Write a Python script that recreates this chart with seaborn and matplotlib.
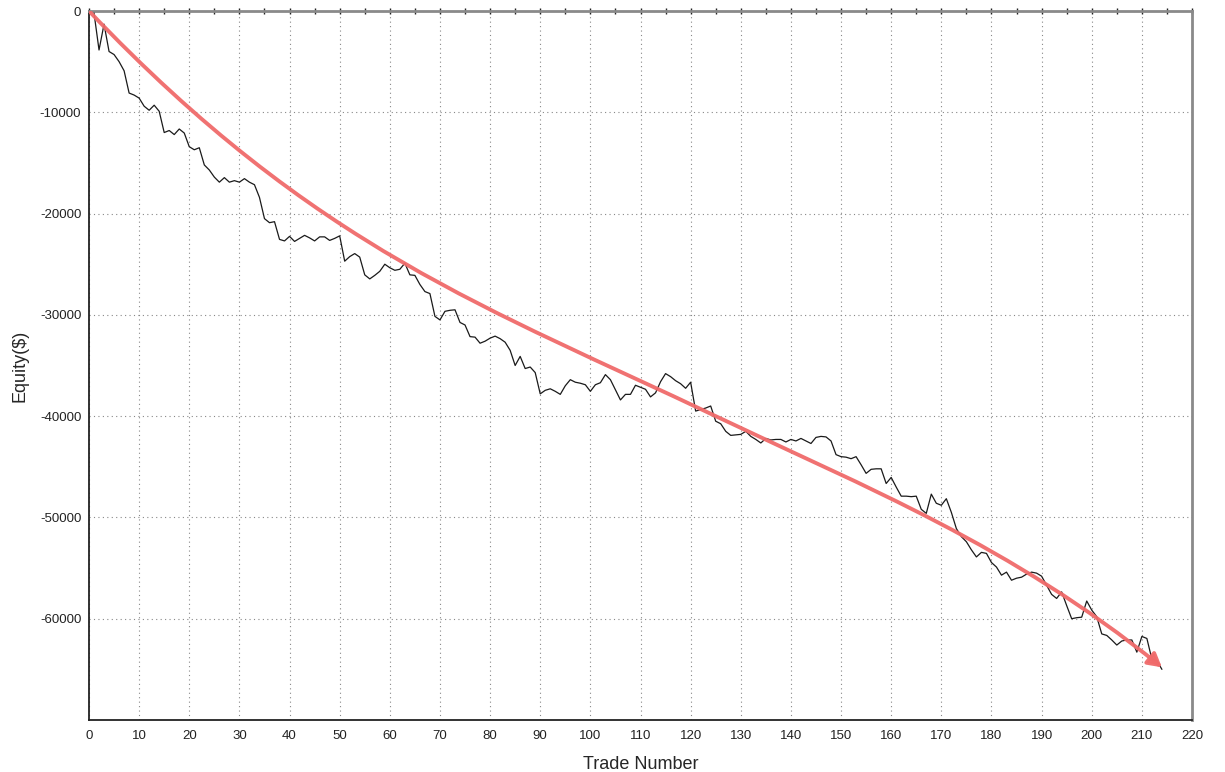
import numpy as np
import pandas as pd
import matplotlib
matplotlib.use("Agg")
import matplotlib.pyplot as plt
import seaborn as sns
from matplotlib.ticker import MultipleLocator
from matplotlib.path import Path
from matplotlib.patches import FancyArrowPatch

# equity per trade (trades 1..214)
equity = [
    -200, -3850, -1300, -4000, -4300, -5000, -5900, -8100, -8300, -8600,
    -9400, -9800, -9300, -9900, -12000, -11800, -12200, -11650, -12050, -13400,
    -13700, -13500, -15200, -15700, -16400, -16900, -16450, -16900, -16750, -16900,
    -16550, -16900, -17150, -18400, -20500, -20900, -20800, -22550, -22700, -22250,
    -22750, -22450, -22150, -22400, -22700, -22300, -22300, -22650, -22450, -22200,
    -24700, -24250, -23950, -24300, -26050, -26450, -26100, -25700, -25000, -25350,
    -25600, -25500, -24900, -26050, -26100, -27000, -27700, -27900, -30150, -30500,
    -29650, -29550, -29500, -30750, -31000, -32150, -32200, -32800, -32600, -32300,
    -32100, -32350, -32700, -33500, -35000, -34100, -35300, -35150, -35700, -37800,
    -37450, -37300, -37550, -37850, -37000, -36400, -36650, -36750, -36900, -37550,
    -36900, -36700, -35900, -36400, -37400, -38400, -37850, -37850, -36950, -37150,
    -37350, -38100, -37700, -36600, -35800, -36100, -36500, -36800, -37250, -36650,
    -39500, -39350, -39200, -39000, -40500, -40750, -41500, -41900, -41850, -41800,
    -41500, -42000, -42300, -42650, -42200, -42350, -42300, -42300, -42550, -42300,
    -42450, -42200, -42450, -42700, -42100, -42000, -42050, -42450, -43800, -44000,
    -44050, -44200, -44000, -44800, -45650, -45250, -45200, -45200, -46650, -46050,
    -47000, -47900, -47900, -47950, -47900, -49200, -49600, -47700, -48600, -48800,
    -48150, -49500, -51100, -51900, -52400, -53200, -53900, -53450, -53550, -54450,
    -54900, -55700, -55400, -56200, -56000, -55900, -55600, -55400, -55500, -55800,
    -56700, -57600, -58000, -57350, -58700, -60000, -59900, -59850, -58250, -59150,
    -59800, -61500, -61650, -62100, -62600, -62200, -62100, -62100, -63300, -61750,
    -61950, -64000, -64150, -65000,
]
trades = list(range(1, len(equity) + 1))

# hand-drawn trend arrow: two cubic bezier segments (start, ctrl, ctrl, end, ctrl, ctrl, end)
trend_x = [0, 45, 80, 125, 155, 184, 214]
trend_y = [0, -23400, -29400, -40000, -47050, -52800, -64800]

sns.set_style("white")
plt.rcParams["font.family"] = ["Liberation Sans", "DejaVu Sans"]
plt.rcParams["axes.unicode_minus"] = False

df = pd.DataFrame({"trade": trades, "equity": equity})

fig = plt.figure(figsize=(12.25, 7.72), dpi=100)
ax = fig.add_axes([89 / 1225, 1 - 720 / 772, (1192 - 89) / 1225, (720 - 11) / 772])

sns.lineplot(data=df, x="trade", y="equity", ax=ax, color="#1a1a1a", linewidth=0.9, zorder=3)

codes = [Path.MOVETO] + [Path.CURVE4] * 6
trend_path = Path(list(zip(trend_x, trend_y)), codes)
arrow = FancyArrowPatch(path=trend_path, arrowstyle="-|>,head_length=8,head_width=4.5",
                        color="#f06a6a", lw=2.8, zorder=5, shrinkA=0, shrinkB=0, alpha=0.95)
ax.add_patch(arrow)

ax.set_xlim(0, 220)
ax.set_ylim(-70000, 0)
ax.xaxis.set_major_locator(MultipleLocator(10))
ax.xaxis.set_minor_locator(MultipleLocator(5))
ax.yaxis.set_minor_locator(MultipleLocator(5000))
ax.set_yticks([0, -10000, -20000, -30000, -40000, -50000, -60000])

ax.grid(True, which="major", linestyle=(0, (1, 3)), color="#888888", linewidth=0.8)
ax.tick_params(axis="both", which="both", direction="inout", length=4, width=1,
               labelsize=9.5, colors="#222222", top=True)
ax.tick_params(axis="x", which="both", pad=5)

for side in ["left", "bottom"]:
    ax.spines[side].set_color("#222222")
    ax.spines[side].set_linewidth(1.3)
for side in ["top", "right"]:
    ax.spines[side].set_color("#8a8a8a")
    ax.spines[side].set_linewidth(2)

ax.set_xlabel("Trade Number", fontsize=13, labelpad=10)
ax.set_ylabel("Equity($)", fontsize=13, labelpad=8)

plt.savefig("out.png", dpi=100)
